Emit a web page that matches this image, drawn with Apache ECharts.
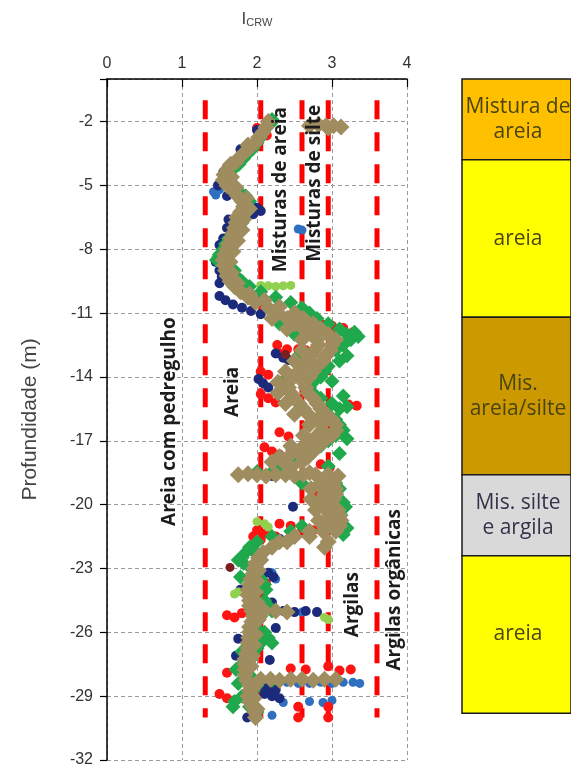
<!DOCTYPE html>
<html>
<head>
<meta charset="utf-8">
<script src="https://cdn.jsdelivr.net/npm/echarts@6/dist/echarts.min.js"></script>
<style>html,body{margin:0;padding:0;background:#fff;}#c{width:571px;height:771px;}</style>
</head>
<body>
<div id="c"></div>
<script>
// ---------------- DATA ----------------
// Icrw boundaries of soil behaviour zones
const zoneBoundaries = [1.31, 2.05, 2.60, 2.95, 3.60];
const boundaryDepthRange = [-1, -30];
const xTicks = [0, 1, 2, 3, 4];
const zoneNames = ['Areia com pedregulho', 'Areia', 'Misturas de areia', 'Misturas de silte', 'Argilas', 'Argilas orgânicas'];

// soil column (right)
const layerNames = ['Mistura de\nareia', 'areia', 'Mis.\nareia/silte', 'Mis. silte\ne argila', 'areia'];
const layerTops = [0, -3.8, -11.2, -18.6, -22.4];
const layerBottoms = [-3.8, -11.2, -18.6, -22.4, -29.8];

// CPT soundings: [Icrw, depth(m)]
const soundingTan = [
[2.15,-2.0],[2.12,-2.25],[2.08,-2.5],[2.02,-2.75],[1.98,-3.0],[1.9,-3.25],[1.82,-3.5],[1.75,-3.75],[1.65,-4.0],[1.6,-4.25],[1.56,-4.5],[1.55,-4.75],[1.6,-5.0],[1.68,-5.25],[1.74,-5.5],[1.8,-5.75],[1.82,-6.0],[1.78,-6.25],[1.73,-6.5],[1.72,-6.75],[1.7,-7.0],[1.68,-7.25],[1.65,-7.5],[1.62,-7.75],[1.6,-8.0],[1.57,-8.25],[1.55,-8.5],[1.56,-8.75],[1.58,-9.0],[1.6,-9.25],[1.64,-9.5],[1.7,-9.75],[1.78,-10.0],[1.88,-10.25],[1.98,-10.5],[2.15,-10.75],[2.28,-11.0],[2.4,-11.25],[2.5,-11.5],[2.62,-11.75],[2.72,-12.0],[2.8,-12.25],[2.82,-12.5],[2.77,-12.75],[2.72,-13.0],[2.68,-13.25],[2.6,-13.5],[2.55,-13.75],[2.48,-14.0],[2.42,-14.25],[2.42,-14.5],[2.45,-14.75],[2.5,-15.0],[2.56,-15.25],[2.62,-15.5],[2.68,-15.75],[2.8,-16.0],[2.86,-16.25],[2.87,-16.5],[2.8,-16.75],[2.7,-17.0],[2.62,-17.25],[2.55,-17.5],[2.42,-17.75],[2.35,-18.0],[2.45,-18.25],[2.7,-18.5],[2.9,-18.75],[2.85,-19.0],[2.88,-19.25],[2.9,-19.5],[2.86,-19.75],[2.84,-20.0],[2.92,-20.25],[2.97,-20.5],[2.98,-20.75],[2.95,-21.0],[2.88,-21.25],[2.7,-21.5],[2.4,-21.75],[2.2,-22.0],[2.08,-22.25],[2.02,-22.5],[1.98,-22.75],[1.96,-23.0],[1.95,-23.25],[1.92,-23.5],[1.9,-23.75],[1.88,-24.0],[1.88,-24.25],[1.9,-24.5],[1.9,-24.75],[1.93,-25.0],[1.95,-25.25],[1.93,-25.5],[1.9,-25.75],[1.9,-26.0],[1.89,-26.25],[1.88,-26.5],[1.88,-26.75],[1.86,-27.0],[1.84,-27.25],[1.84,-27.5],[1.84,-27.75],[1.84,-28.0],[1.86,-28.25],[1.9,-28.5],[1.9,-28.75],[1.88,-29.0],[1.9,-29.25],[1.94,-29.5],[1.97,-29.75],[1.98,-30.0],
[2.7,-2.2],[2.82,-2.15],[2.92,-2.2],[3.02,-2.2],[3.12,-2.25],[2.95,-2.3],
[1.88,-3.1],[1.72,-3.9],[1.66,-4.6],[1.72,-5.1],[1.86,-5.6],[1.9,-6.1],[1.82,-6.6],[1.8,-7.1],[1.74,-7.6],[1.68,-8.1],[1.64,-8.6],[1.66,-9.1],[1.74,-9.6],[1.9,-10.1],[2.1,-10.4],[2.3,-10.7],
[2.5,-11.0],[2.75,-11.5],[2.95,-12.0],[3.0,-12.5],[2.92,-13.0],[2.8,-13.5],[2.7,-14.0],[2.65,-14.5],[2.75,-15.0],[2.85,-15.5],[3.0,-16.0],[3.05,-16.5],[2.9,-17.0],[2.75,-17.5],[2.6,-18.0],[3.02,-19.0],[3.05,-19.5],[3.0,-20.0],[3.1,-20.5],[3.1,-21.0],[2.95,-21.75],[2.9,-22.0],
[2.62,-11.25],[2.85,-11.75],[3.05,-12.25],[2.98,-12.75],[2.88,-13.25],[2.75,-13.75],[2.62,-14.25],[2.68,-14.75],[2.8,-15.25],[2.92,-15.75],[3.05,-16.25],[3.0,-16.75],[2.82,-17.25],[2.68,-17.75],[3.05,-19.25],[3.02,-19.75],[3.08,-20.25],[3.12,-20.75],[3.05,-21.25],
[2.2,-11.25],[2.4,-11.75],[2.6,-12.25],[2.6,-12.75],[2.5,-13.25],[2.38,-13.75],[2.28,-14.25],[2.28,-14.75],[2.38,-15.25],[2.5,-15.75],[2.7,-16.25],[2.62,-16.75],[2.45,-17.25],[2.3,-17.75],[2.2,-18.0],[2.72,-19.25],[2.72,-19.75],[2.78,-20.25],[2.82,-20.75],[2.7,-21.25],[2.5,-21.5],[2.3,-21.75],
[1.75,-18.6],[1.88,-18.55],[2.0,-18.6],[2.12,-18.65],[2.25,-18.6],[2.38,-18.6],[2.5,-18.65],[2.62,-18.6],[2.78,-18.6],[2.95,-18.6],[3.08,-18.65],
[2.05,-28.2],[2.18,-28.2],[2.3,-28.25],[2.45,-28.2],[2.6,-28.2],[2.75,-28.25],[2.9,-28.2],[3.05,-28.2],
[2.1,-25.0],[2.25,-25.0],[2.4,-25.05],
[2.05,-22.6],[2.02,-23.1],[2.0,-23.6],[1.98,-24.1],[2.0,-24.6],[2.02,-25.4],[1.98,-26.1],[1.96,-26.6],[1.94,-27.1],[1.92,-27.6],[1.95,-28.6],[1.96,-29.1],[2.0,-29.6]
];
const soundingGreen = [
[2.2,-1.9],[2.18,-2.1],[2.12,-2.3],[2.08,-2.5],[2.05,-2.75],[2.0,-3.0],[1.95,-3.25],[1.88,-3.5],[1.82,-3.75],[1.76,-4.0],[1.68,-4.25],[1.62,-4.5],[1.6,-4.75],[1.66,-5.0],[1.75,-5.25],[1.85,-5.5],[1.9,-5.75],[1.88,-6.0],[1.85,-6.25],[1.82,-6.5],[1.8,-6.75],[1.72,-7.0],[1.7,-7.25],[1.62,-7.5],[1.58,-7.75],[1.55,-8.0],[1.5,-8.25],[1.46,-8.5],[1.62,-8.75],[1.7,-9.0],[1.72,-9.25],[1.8,-9.5],[1.9,-9.75],[2.05,-10.0],[2.25,-10.25],[2.45,-10.5],[2.6,-10.75],[2.7,-11.0],[2.8,-11.25],[2.95,-11.5],[3.1,-11.75],[3.2,-12.0],[3.25,-12.25],[3.15,-12.5],[3.05,-12.75],[3.2,-13.0],[3.1,-13.25],[2.95,-13.5],[2.9,-13.75],[2.85,-14.0],[2.75,-14.25],[2.7,-14.5],[2.75,-14.75],[2.85,-15.0],[3.0,-15.25],[3.1,-15.5],[2.95,-15.75],[3.05,-16.0],[3.1,-16.25],[3.15,-16.5],[3.05,-16.75],[2.95,-17.0],[2.85,-17.25],[2.7,-17.5],[2.55,-17.75],[2.5,-18.0],[2.35,-18.25],[2.2,-18.45],[3.0,-18.75],[3.05,-19.0],[3.1,-19.25],[3.05,-19.5],[3.0,-19.75],[2.92,-20.0],[3.05,-20.25],[3.12,-20.5],[3.1,-20.75],[2.6,-21.0],[2.45,-21.25],[2.2,-21.5],[2.0,-21.75],[1.9,-22.0],[1.85,-22.25],[1.8,-22.5],[1.82,-22.75],[1.92,-23.0],[2.0,-23.25],[2.05,-23.5],[2.1,-23.75],[2.0,-24.0],[1.95,-24.25],[2.1,-24.5],[2.15,-24.75],[2.2,-25.0],[2.05,-25.25],[2.0,-25.5],[1.98,-25.75],[2.1,-26.0],[2.15,-26.25],[2.05,-26.5],[2.0,-26.75],[1.95,-27.0],[1.92,-27.25],[1.8,-27.5],[1.72,-27.75],[1.9,-28.0],[2.2,-28.25],[2.0,-28.5],[1.95,-28.75],[1.8,-29.0],[1.7,-29.25],[1.9,-29.5],[2.0,-29.75],
[2.3,-11.5],[2.5,-12.0],[2.55,-13.0],[2.4,-14.0],[3.3,-11.9],[3.35,-12.1],[3.2,-15.4],[2.6,-19.0],[3.15,-19.9],[2.25,-18.35],[2.0,-18.45],
[3.0,-14.2],[3.15,-14.9],[3.2,-16.9],[3.1,-17.6],[2.95,-18.2],[3.18,-20.1],[3.2,-21.1],[3.15,-21.4],[2.0,-22.3],[1.75,-22.6],[1.78,-23.4],[2.12,-24.0],[2.2,-26.5],[1.8,-26.9],[1.75,-28.4],[1.68,-29.5]
];
const soundingNavy = [
[2.0,-2.4],[1.78,-3.3],[1.6,-4.15],[1.55,-4.4],[1.48,-5.0],[1.6,-5.5],[1.92,-5.9],[2.0,-6.05],[2.05,-6.2],[1.95,-6.35],[1.62,-6.6],[1.6,-7.0],[1.55,-7.5],[1.5,-7.8],[1.5,-8.3],[1.45,-8.6],[1.5,-9.0],[1.53,-9.3],[1.5,-9.6],[1.5,-10.2],[1.58,-10.4],[1.68,-10.6],[1.8,-10.75],[1.92,-10.9],[2.05,-11.05],[2.25,-12.9],[2.35,-13.1],[2.42,-13.2],[2.02,-14.1],[2.08,-14.3],[2.15,-14.5],[3.15,-16.5],[2.45,-17.4],[2.2,-18.65],[2.5,-18.62],[2.8,-18.62],[2.48,-20.1],[3.05,-20.0],[2.3,-21.6],[1.95,-22.2],[2.15,-23.2],[2.22,-23.4],[1.78,-24.0],[2.2,-24.6],[2.2,-25.0],[2.35,-25.0],[2.5,-25.05],[2.65,-25.0],[2.8,-25.05],[2.25,-25.8],[1.75,-26.3],[2.17,-27.3],[1.72,-27.1],[2.05,-28.5],[2.15,-28.6],[2.25,-28.7],[2.1,-28.9],[2.2,-29.0],[2.3,-29.1],[1.87,-30.0]
];
const soundingBlue = [
[1.42,-5.3],[1.45,-5.45],[1.5,-5.2],[2.55,-7.05],[2.6,-7.1],[2.2,-23.2],[2.25,-23.5],[2.6,-25.05],[2.4,-28.35],[2.55,-28.4],[2.7,-28.4],[2.85,-28.35],[3.0,-28.4],[3.15,-28.35],[3.28,-28.35],[3.37,-28.4],[2.7,-29.25],[2.88,-29.3],[3.0,-29.2],[2.35,-29.3],[2.2,-29.9]
];
const soundingRed = [
[2.0,-2.3],[2.05,-2.5],[2.13,-2.65],[1.55,-4.8],[1.55,-8.0],[1.53,-8.3],
[2.7,-11.4],[2.85,-11.5],[3.0,-11.6],[3.15,-11.7],[3.28,-11.9],[3.05,-12.0],[2.9,-11.8],
[2.27,-12.5],[2.4,-12.7],[2.55,-12.7],[2.65,-12.75],[2.75,-12.8],[2.3,-12.9],
[2.05,-13.75],[2.15,-13.9],[2.05,-14.8],[2.15,-15.0],[2.25,-15.2],[3.22,-15.3],[3.33,-15.35],
[2.3,-16.6],[2.42,-16.8],[2.1,-17.3],[2.2,-17.5],[2.3,-17.65],[2.4,-17.8],[2.85,-18.1],[2.97,-18.25],
[2.78,-19.5],[3.05,-20.2],[3.1,-20.4],[2.3,-20.9],[2.45,-21.0],[2.6,-21.1],[2.75,-21.2],[2.0,-21.2],[2.12,-21.35],[2.25,-21.5],[1.95,-21.5],[2.05,-21.65],
[2.12,-23.7],[1.6,-25.2],[1.7,-25.3],[1.8,-25.1],[1.6,-27.9],
[2.45,-27.7],[2.65,-27.75],[2.95,-27.6],[3.1,-27.8],[3.25,-27.75],
[1.5,-28.9],[1.6,-29.1],[1.7,-29.2],[2.55,-29.5],[2.95,-29.5],[2.95,-30.0],[2.55,-30.0]
];
const soundingLightGreen = [
[2.05,-9.7],[2.15,-9.72],[2.25,-9.75],[2.35,-9.72],[2.45,-9.7],[1.45,-8.4],[2.0,-20.8],[2.1,-20.9],[2.15,-21.05],[1.7,-24.2],[1.75,-24.1],[2.95,-25.4],[2.9,-25.3]
];
const soundingDarkRed = [
[1.64,-22.95],[2.38,-12.95]
];

// ---------------- LAYOUT / STYLE ----------------
const OFF = 32; // depth -> axis value shift so ticks fall on -32,-29,...,-2
const T = d => d + OFF;
const zonePos = [[0.84,-16.1],[1.67,-14.7],[2.31,-5.2],[2.77,-4.9],[3.28,-24.7],[3.84,-24.0]];
const layerColors = ['#FFC000', '#FFFF00', '#CC9900', '#D9D9D9', '#FFFF00'];

const chart = echarts.init(document.getElementById('c'), null, {renderer: 'canvas'});

const gridMain = {left: 107, top: 79, width: 300, height: 681};
const gridCol = {left: 462, top: 79, width: 120, height: 681};

function scatter(name, data, color, size, symbol) {
  return {
    type: 'scatter', name, xAxisIndex: 0, yAxisIndex: 0,
    data: data.map(p => [p[0], T(p[1])]),
    symbol: symbol || 'circle', symbolSize: size,
    itemStyle: {color, opacity: 1}, silent: true, z: 3, large: false
  };
}

const series = [];
zoneBoundaries.forEach(b => {
  series.push({
    type: 'line', xAxisIndex: 0, yAxisIndex: 0, symbol: 'none', silent: true, z: 2,
    data: [[b, T(boundaryDepthRange[0])], [b, T(boundaryDepthRange[1])]],
    lineStyle: {color: '#FF0000', width: 5, type: [19, 13], cap: 'butt'}
  });
});
series.push(scatter('blue', soundingBlue, '#2F6FBF', 9));
series.push(scatter('red', soundingRed, '#FF1414', 10));
series.push(scatter('navy', soundingNavy, '#1B2A7A', 10));
series.push(scatter('lightgreen', soundingLightGreen, '#92D050', 9));
series.push(scatter('green', soundingGreen, '#1FA84C', 15, 'diamond'));
series.push(scatter('darkred', soundingDarkRed, '#7A1F1F', 9));
series.push(scatter('tan', soundingTan, '#A08D5F', 17, 'diamond'));

// zone annotations (vertical text)
series.push({
  type: 'custom', xAxisIndex: 0, yAxisIndex: 0, silent: true, z: 10,
  data: zoneNames.map((n, i) => [zonePos[i][0], T(zonePos[i][1]), i]),
  renderItem: function (params, api) {
    const i = api.value(2);
    const p = api.coord([api.value(0), api.value(1)]);
    return {
      type: 'text', x: p[0], y: p[1], rotation: Math.PI / 2,
      style: {text: zoneNames[i], fill: '#1c1c1c', font: 'bold 19px "Open Sans"', align: 'center', verticalAlign: 'middle'}
    };
  }
});

// soil column
series.push({
  type: 'custom', xAxisIndex: 1, yAxisIndex: 1, silent: true, z: 5,
  data: layerNames.map((n, i) => [T(layerTops[i]), T(layerBottoms[i]), i]),
  renderItem: function (params, api) {
    const i = api.value(2);
    const p1 = api.coord([0, api.value(0)]);
    const p2 = api.coord([1, api.value(1)]);
    return {
      type: 'group',
      children: [
        {type: 'rect', shape: {x: p1[0], y: p1[1], width: p2[0] - p1[0], height: p2[1] - p1[1]},
         style: {fill: layerColors[i], stroke: '#1a1a1a', lineWidth: 1.5}},
        {type: 'text', x: 518, y: (p1[1] + p2[1]) / 2,
         style: {text: layerNames[i], fill: i === 3 ? '#33334a' : '#4a4510', font: '21px "Open Sans"', lineHeight: 25, align: 'center', verticalAlign: 'middle'}}
      ]
    };
  }
});

const option = {
  backgroundColor: '#ffffff',
  animation: false,
  grid: [gridMain, gridCol],
  xAxis: [{
    type: 'value', gridIndex: 0, position: 'top', min: xTicks[0], max: xTicks[xTicks.length - 1], interval: 1,
    axisLine: {show: true, onZero: false, lineStyle: {color: '#000', width: 1.5}},
    axisTick: {show: true, inside: true, length: 8, lineStyle: {color: '#000', width: 1.2}},
    axisLabel: {color: '#333', fontSize: 16, margin: 7, fontFamily: 'Liberation Sans'},
    splitLine: {show: true, lineStyle: {color: '#9a9a9a', width: 1, type: [4, 3]}},
    name: '{i|I}{s|CRW}', nameLocation: 'middle', nameGap: 51,
    nameTextStyle: {rich: {i: {fontSize: 17, color: '#444', fontFamily: 'Liberation Sans'}, s: {fontSize: 11, color: '#444', fontFamily: 'Liberation Sans', verticalAlign: 'bottom'}}}
  }, {
    type: 'value', gridIndex: 1, min: 0, max: 1, show: false
  }],
  yAxis: [{
    type: 'value', gridIndex: 0, min: 0, max: OFF, interval: 3,
    axisLine: {show: true, onZero: false, lineStyle: {color: '#000', width: 1.5}},
    axisTick: {show: true, length: 7, lineStyle: {color: '#000', width: 1.2}},
    axisLabel: {color: '#333', fontSize: 16, margin: 14, fontFamily: 'Liberation Sans',
      formatter: v => (v >= OFF ? '' : String(v - OFF))},
    splitLine: {show: true, lineStyle: {color: '#9a9a9a', width: 1, type: [4, 3]}},
    name: 'Profundidade (m)', nameLocation: 'middle', nameGap: 66,
    nameTextStyle: {fontSize: 21, color: '#444', fontFamily: 'Liberation Sans'}
  }, {
    type: 'value', gridIndex: 1, min: 0, max: OFF, show: false
  }],
  series
};
chart.setOption(option);
</script>
</body>
</html>
